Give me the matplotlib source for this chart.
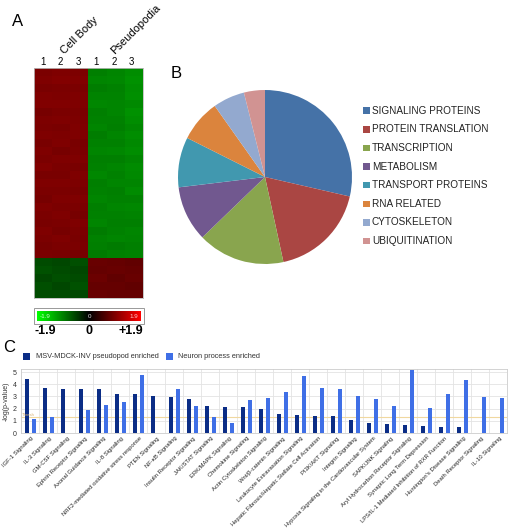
import numpy as np
import matplotlib
matplotlib.use("Agg")
import matplotlib.pyplot as plt
from matplotlib.colors import LinearSegmentedColormap
from matplotlib.patches import Rectangle

plt.rcParams['font.family'] = ['Liberation Sans', 'DejaVu Sans']

# ---- panel A: heatmap (log ratio), columns = Cell Body 1-3, Pseudopodia 1-3
heat_upper = [
    [0.92, 0.95, 0.93, -0.95, -0.98, -1.05],
    [0.95, 0.97, 0.96, -0.98, -1.00, -1.08],
    [0.90, 0.92, 0.91, -0.93, -0.96, -1.04],
    [0.94, 0.93, 0.95, -0.97, -0.97, -1.06],
    [0.96, 0.96, 0.94, -1.00, -0.99, -1.02],
    [0.89, 0.91, 0.92, -0.94, -0.98, -1.07],
    [0.93, 0.95, 0.93, -0.96, -0.96, -1.04],
    [0.91, 0.90, 0.94, -0.98, -0.94, -1.00],
    [0.95, 0.93, 0.95, -0.93, -0.98, -1.05],
    [0.90, 0.94, 0.90, -0.96, -0.96, -1.01],
    [0.94, 0.89, 0.92, -0.99, -1.00, -1.04],
    [0.92, 0.95, 0.94, -0.94, -0.94, -0.99],
    [0.96, 0.92, 0.90, -0.96, -0.98, -1.03],
    [0.90, 0.90, 0.95, -1.00, -0.96, -1.01],
    [0.94, 0.94, 0.93, -0.94, -0.98, -0.98],
    [0.92, 0.92, 0.90, -0.96, -0.94, -1.03],
    [0.88, 0.95, 0.94, -0.98, -0.96, -0.96],
    [0.94, 0.91, 0.92, -0.94, -0.98, -1.00],
    [0.92, 0.94, 0.88, -0.96, -0.96, -0.97],
    [0.90, 0.92, 0.94, -0.98, -0.94, -0.95],
    [0.94, 0.88, 0.92, -0.92, -0.96, -0.99],
    [0.92, 0.94, 0.90, -0.96, -0.98, -0.97],
    [0.88, 0.92, 0.92, -0.94, -0.92, -0.95],
    [0.91, 0.90, 0.88, -0.92, -0.96, -0.97],
]
heat_lower = [
    [-0.55, -0.52, -0.58, 0.78, 0.75, 0.72],
    [-0.60, -0.55, -0.52, 0.75, 0.78, 0.75],
    [-0.52, -0.58, -0.55, 0.80, 0.72, 0.78],
    [-0.58, -0.52, -0.60, 0.75, 0.75, 0.72],
    [-0.55, -0.55, -0.52, 0.78, 0.75, 0.75],
]
col_numbers = ['1', '2', '3', '1', '2', '3']
groups = ['Cell Body', 'Pseudopodia']

# ---- panel B: protein categories
pie_labels = ['SIGNALING PROTEINS', 'PROTEIN TRANSLATION', 'TRANSCRIPTION', 'METABOLISM',
              'TRANSPORT PROTEINS', 'RNA RELATED', 'CYTOSKELETON', 'UBIQUITINATION']
pie_share = [28.6, 18.0, 16.2, 10.3, 9.3, 7.8, 5.9, 3.9]
pie_colors = ['#4572A7', '#AA4643', '#89A54E', '#71588F', '#4198AF', '#DB843D', '#93A9CF', '#D19392']

# ---- panel C: pathway enrichment, -log(p-value)
pathways = ['IGF-1 Signaling', 'IL-3 Signaling', 'GM-CSF Signaling', 'Ephrin Receptor Signaling',
            'Axonal Guidance Signaling', 'IL-8 Signaling', 'NRF2-mediated oxidative stress response',
            'PTEN Signaling', 'NF-κB Signaling', 'Insulin Receptor Signaling', 'JAK/STAT Signaling',
            'ERK/MAPK Signaling', 'Chemokine Signaling', 'Actin Cytoskeleton Signaling',
            'Wnt/β-catenin Signaling', 'Leukocyte Extravasation Signaling',
            'Hepatic Fibrosis/Hepatic Stellate Cell Activation', 'PI3K/AKT Signaling',
            'Integrin Signaling', 'Hypoxia Signaling in the Cardiovascular System',
            'SAPK/JNK Signaling', 'Aryl Hydrocarbon Receptor Signaling',
            'Synaptic Long Term Depression', 'LPS/IL-1 Mediated Inhibition of RXR Function',
            "Huntington's Disease Signaling", 'Death Receptor Signaling', 'IL-10 Signaling']
pseudopod = [4.43, 3.69, 3.63, 3.63, 3.58, 3.20, 3.17, 3.06, 2.92, 2.79, 2.24, 2.16, 2.16, 1.99,
             1.56, 1.48, 1.42, 1.42, 1.09, 0.85, 0.74, 0.63, 0.60, 0.49, 0.49, np.nan, np.nan]
neuron = [1.12, 1.34, np.nan, 1.89, 2.32, 2.57, 4.75, np.nan, 3.58, 2.24, 1.28, 0.79, 2.73, 2.87,
          3.39, 4.67, 3.69, 3.58, 3.03, 2.75, 2.21, 5.16, 2.05, 3.20, 4.37, 2.95, 2.90]
threshold = 1.3

W, H = 512, 528
fig = plt.figure(figsize=(W / 100, H / 100), dpi=100)


def ax_px(x0, y0, x1, y1):
    return fig.add_axes([x0 / W, 1 - y1 / H, (x1 - x0) / W, (y1 - y0) / H])


def txt(x, y, s, **kw):
    fig.text(x / W, 1 - y / H, s, **kw)


# ---------------- A
cmap = LinearSegmentedColormap.from_list('gbr', ['#00ff00', '#000000', '#ff0000'])
heat = np.array(heat_upper + heat_lower)
axh = ax_px(34, 68, 143, 298)
axh.imshow(heat, cmap=cmap, vmin=-1.9, vmax=1.9, aspect='auto', interpolation='nearest')
axh.set_xticks([])
axh.set_yticks([])
for s in axh.spines.values():
    s.set_color('#bbbbbb')
    s.set_linewidth(0.6)

txt(18, 22, 'A', fontsize=12, va='center', ha='center')
for i, n in enumerate(col_numbers):
    txt(43 + i * 17.7, 62, n, fontsize=7, ha='center', va='center')
txt(59, 56, groups[0], fontsize=8, rotation=45, ha='left', va='bottom')
txt(109, 56, groups[1], fontsize=8, rotation=45, ha='left', va='bottom')

# colour bar
axc = ax_px(37, 311, 141, 321)
axc.imshow(np.linspace(-1.9, 1.9, 200)[None, :], cmap=cmap, vmin=-1.9, vmax=1.9, aspect='auto')
axc.set_xticks([])
axc.set_yticks([])
for s in axc.spines.values():
    s.set_visible(False)
fig.patches.append(Rectangle(((34) / W, 1 - 324 / H), 110 / W, 16 / H, transform=fig.transFigure,
                             fill=False, edgecolor='#999999', linewidth=0.7))
txt(40, 316, '-1.9', fontsize=4.5, color='#ccffcc', ha='left', va='center')
txt(89, 316, '0', fontsize=4.5, color='#dddddd', ha='center', va='center')
txt(138, 316, '1.9', fontsize=4.5, color='#ffcccc', ha='right', va='center')
txt(45, 331, '-1.9', fontsize=9, fontweight='bold', ha='center', va='center')
txt(89, 331, '0', fontsize=9, fontweight='bold', ha='center', va='center')
txt(131, 331, '+1.9', fontsize=9, fontweight='bold', ha='center', va='center')

# ---------------- B
txt(176, 74, 'B', fontsize=12, ha='center', va='center')
axp = ax_px(178, 90, 352, 264)
axp.pie(pie_share, colors=pie_colors, startangle=90, counterclock=False,
        wedgeprops=dict(linewidth=0))
axp.set_xlim(-1.0, 1.0)
axp.set_ylim(-1.0, 1.0)
axp.set_aspect('equal')
for i, lab in enumerate(pie_labels):
    y = 110.7 + i * 18.6
    fig.patches.append(Rectangle((363 / W, 1 - (y + 3.3) / H), 6.5 / W, 6.5 / H,
                                 transform=fig.transFigure, color=pie_colors[i], linewidth=0))
    txt(372, y, lab, fontsize=7.2, ha='left', va='center', color='#222222')

# ---------------- C
txt(9, 348, 'C', fontsize=12, ha='center', va='center')
dark, light = '#0b2d86', '#3f6fe6'
fig.patches.append(Rectangle((23 / W, 1 - 359.5 / H), 7 / W, 7 / H, transform=fig.transFigure,
                             color=dark, linewidth=0))
txt(36, 356, 'MSV-MDCK-INV pseudopod enriched', fontsize=5.3, ha='left', va='center', color='#333333')
fig.patches.append(Rectangle((166 / W, 1 - 359.5 / H), 7 / W, 7 / H, transform=fig.transFigure,
                             color=light, linewidth=0))
txt(178, 356, 'Neuron process enriched', fontsize=5.3, ha='left', va='center', color='#333333')

axb = ax_px(21, 369, 507, 433)
x = np.arange(len(pathways))
axb.bar(x + 0.35, pseudopod, width=0.22, color=dark, zorder=3)
axb.bar(x + 0.74, neuron, width=0.22, color=light, zorder=3)
axb.axhline(threshold, color='#f0d8a0', linewidth=0.8, zorder=2)
axb.text(0.05, threshold + 0.05, 'Thresh', fontsize=3, color='#d8b070', va='bottom')
axb.set_xlim(0, len(pathways))
axb.set_ylim(0, 5.25)
axb.set_yticks([0, 1, 2, 3, 4, 5])
axb.set_xticks(x, minor=True)
axb.grid(True, which='minor', axis='x', color='#e3e3e3', linewidth=0.6, zorder=0)
axb.grid(True, which='major', axis='y', color='#e3e3e3', linewidth=0.6, zorder=0)
axb.set_xticks(x + 0.55)
axb.set_xticklabels(pathways, rotation=45, ha='right', rotation_mode='anchor', fontsize=4.2,
                    color='#222222')
axb.tick_params(axis='x', which='both', length=0, pad=2)
axb.tick_params(axis='y', length=0, pad=3, labelsize=5, labelcolor='#333333')
axb.set_ylabel('-log(p-value)', fontsize=5, color='#333333', labelpad=2)
for s in axb.spines.values():
    s.set_color('#cccccc')
    s.set_linewidth(0.6)

fig.savefig('out.png', dpi=100)
